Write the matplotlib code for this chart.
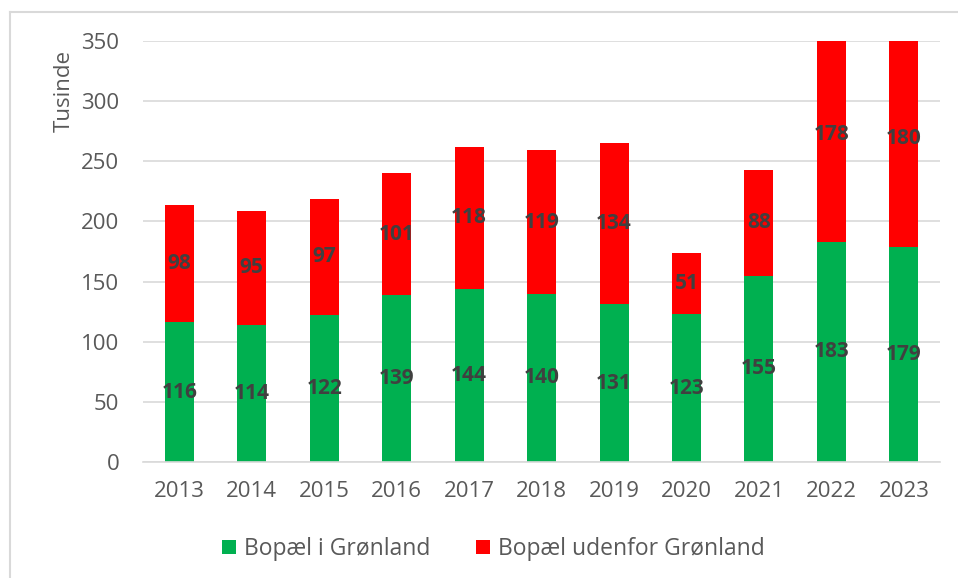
import numpy as np
import matplotlib
matplotlib.use('Agg')
import matplotlib.pyplot as plt
from matplotlib.lines import Line2D

plt.rcParams['font.family'] = ['Open Sans', 'DejaVu Sans']

# Data
years = ['2013', '2014', '2015', '2016', '2017', '2018', '2019', '2020', '2021', '2022', '2023']
bopael_gl = [116, 114, 122, 139, 144, 140, 131, 123, 155, 183, 179]
bopael_udenfor = [98, 95, 97, 101, 118, 119, 134, 51, 88, 178, 180]

green = '#00B050'
red = '#FF0000'
text_col = '#595959'
label_col = '#404040'

fig = plt.figure(figsize=(9.58, 5.78), dpi=100)
ax = fig.add_axes([0.1493, 0.2007, 0.832, 0.7284])

x = np.arange(len(years))
w = 0.4
ax.bar(x, bopael_gl, width=w, color=green, label='Bopæl i Grønland', zorder=2)
ax.bar(x, bopael_udenfor, width=w, bottom=bopael_gl, color=red,
       label='Bopæl udenfor Grønland', zorder=2)

# Value labels at segment centres
for i in range(len(years)):
    g = bopael_gl[i]
    r = bopael_udenfor[i]
    ax.text(x[i], g / 2, str(g), ha='center', va='center', fontsize=15,
            fontweight='bold', color=label_col, zorder=3)
    ax.text(x[i], g + r / 2, str(r), ha='center', va='center', fontsize=15,
            fontweight='bold', color=label_col, zorder=3)

ax.set_ylim(0, 350)
ax.set_xlim(-0.5, len(years) - 0.5)
ax.set_yticks(np.arange(0, 351, 50))
ax.set_xticks(x)
ax.set_xticklabels(years)
ax.yaxis.grid(True, color='#D9D9D9', linewidth=1.2, zorder=0)
ax.set_axisbelow(True)
for s in ['top', 'right', 'left']:
    ax.spines[s].set_visible(False)
ax.spines['bottom'].set_color('#D9D9D9')
ax.spines['bottom'].set_linewidth(1.2)
ax.tick_params(axis='both', length=0, labelsize=16, colors=text_col)
ax.tick_params(axis='y', pad=17)
ax.tick_params(axis='x', pad=14)
ax.set_ylabel('Tusinde', fontsize=16, color=text_col)
ax.yaxis.set_label_coords(-0.0853, 0.881)

ax.legend(loc='center', bbox_to_anchor=(0.44, -0.207), ncol=2, frameon=False,
          fontsize=16.5, labelcolor=text_col, handlelength=0.6, handleheight=0.6,
          handletextpad=0.35, columnspacing=2.0)

# Chart frame (only left and top visible)
fig.add_artist(Line2D([0.0109, 0.0109], [0, 1 - 12 / 578], color='#D9D9D9',
                      linewidth=1.5, transform=fig.transFigure))
fig.add_artist(Line2D([0.0109, 1], [1 - 12 / 578, 1 - 12 / 578], color='#D9D9D9',
                      linewidth=1.5, transform=fig.transFigure))

fig.savefig('out.png', dpi=100)
